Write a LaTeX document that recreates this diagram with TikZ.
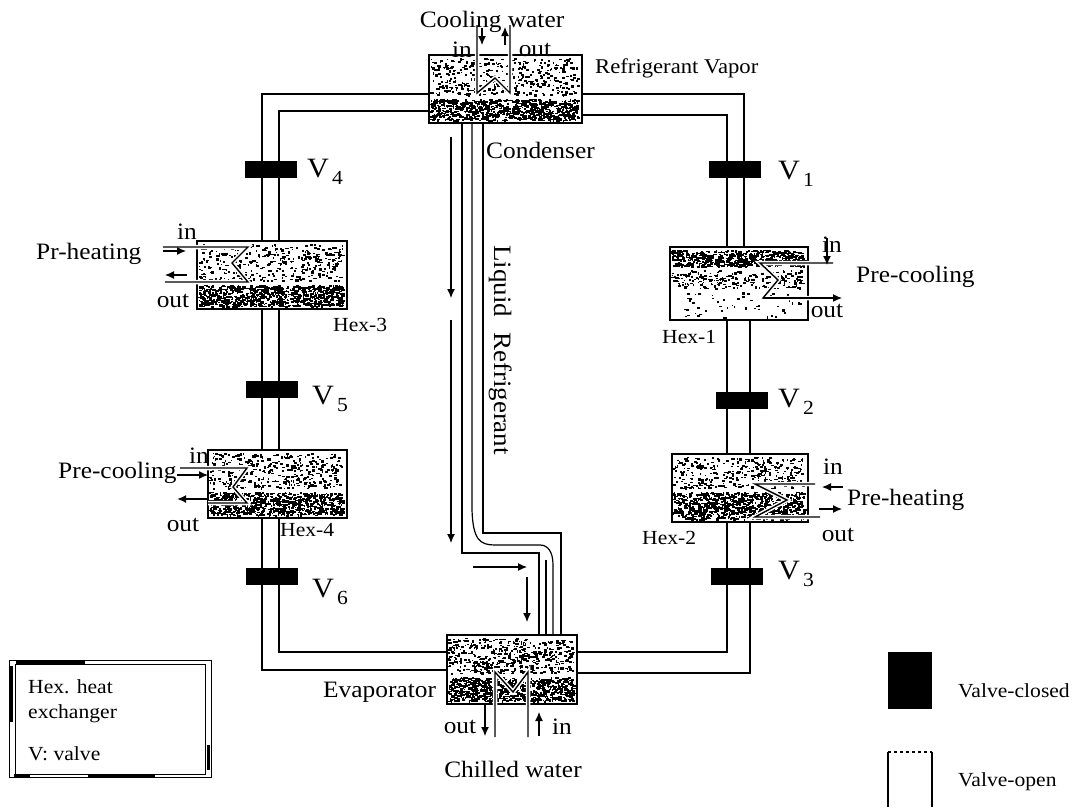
\documentclass[tikz,border=0pt]{standalone}
\usepackage{fontspec}
\setmainfont{Liberation Serif}[FakeStretch=1.08]
\usetikzlibrary{arrows.meta}
\newcommand{\speckle}[5]{
  \foreach \i in {1,...,#5}
    \fill ({#1+rnd*(#3-3.5)},{#2+2+rnd*(#4-4)}) rectangle ++({1+2.5*rnd},{1+1.5*rnd});
}
\newcommand{\vsub}[1]{V\kern3pt\raisebox{-7pt}{\fontsize{20}{22}\selectfont #1}}
\tikzset{
  pipe/.style={line width=1.2pt},
  coil/.style={line width=1.4pt, preaction={draw=white, line width=4.5pt}},
  flow/.style={line width=1.2pt, -{Latex[length=9pt,width=8pt]}},
  hexbox/.style={draw, fill=white, line width=1.5pt, inner sep=0pt, outer sep=0pt},
  valve/.style={fill=black, inner sep=0pt, outer sep=0pt, minimum width=52pt, minimum height=17pt},
  biglabel/.style={font=\fontsize{23.5}{25}\selectfont, inner sep=0pt},
  smalllabel/.style={font=\fontsize{20}{22}\selectfont, inner sep=0pt},
  vlabel/.style={font=\fontsize{28}{30}\selectfont, inner sep=0pt}
}
\begin{document}
\begin{tikzpicture}[x=1pt, y=-1pt]
  \pgfmathsetseed{4711}
  \useasboundingbox (0,0) rectangle (1085,807);

  \coordinate (topleftout) at (262,94);
  \coordinate (topleftin) at (279,111);
  \coordinate (botleftout) at (262,670);
  \coordinate (botleftin) at (279,652);
  \coordinate (toprightout) at (744,94);
  \coordinate (toprightin) at (727,115);
  \coordinate (botrightout) at (750,673);
  \coordinate (botrightin) at (727,652);

  \draw[pipe] (500,94) -- (topleftout) -- (botleftout) -- (500,670);
  \draw[pipe] (500,111) -- (topleftin) -- (botleftin) -- (500,652);
  \draw[pipe] (500,94) -- (toprightout) -- (744,283) -- (750,283) -- (botrightout) -- (500,673);
  \draw[pipe] (500,115) -- (toprightin) -- (botrightin) -- (500,652);

  \draw[pipe] (462,110) -- (462,553) -- (539,553) -- (539,650);
  \draw[pipe] (483,110) -- (483,533) -- (561,533) -- (561,650);
  \draw[pipe] (472,110) -- (472,510) .. controls (473,540) and (480,545) .. (495,545)
    -- (540,545) .. controls (548,545) and (553,552) .. (553,565) -- (553,643);
  \draw[pipe] (546,560) -- (546,643);

  \node[hexbox, minimum width=153pt, minimum height=68pt] (condenser) at (505.5,89) {};
  \speckle{430}{56}{151}{41}{380}
  \speckle{430}{97}{151}{25}{900}
  \node[hexbox, minimum width=150pt, minimum height=68pt] (hexthree) at (272,275) {};
  \speckle{198}{242}{148}{41}{360}
  \speckle{198}{283}{148}{25}{900}
  \node[hexbox, minimum width=139pt, minimum height=68pt] (hexfour) at (277.5,484) {};
  \speckle{209}{451}{137}{39}{380}
  \speckle{209}{490}{137}{27}{850}
  \node[hexbox, minimum width=138pt, minimum height=73pt] (hexone) at (739,283.5) {};
  \speckle{671}{248}{136}{20}{650}
  \speckle{671}{268}{136}{22}{240}
  \speckle{671}{290}{136}{29}{50}
  \node[hexbox, minimum width=136pt, minimum height=68pt] (hextwo) at (740,488) {};
  \speckle{673}{455}{134}{35}{340}
  \speckle{673}{490}{134}{31}{850}
  \node[hexbox, minimum width=130pt, minimum height=69pt] (evaporator) at (512,669.5) {};
  \speckle{448}{636}{128}{39}{500}
  \speckle{448}{675}{128}{28}{850}

  \node[valve] (vfour) at (271,169) {};
  \node[valve] (vone) at (735,169) {};
  \node[valve] (vfive) at (272,389.5) {};
  \node[valve] (vtwo) at (742,400.5) {};
  \node[valve] (vsix) at (272,576) {};
  \node[valve] (vthree) at (737,576) {};

  \draw[line width=2.2pt] (hexthree.south -| 262,0) -- (vfive.north -| 262,0);
  \draw[line width=2.2pt] (hextwo.south -| 727,0) -- (vthree.north -| 727,0);
  \draw[line width=2.2pt] (hextwo.south -| 750,0) -- (vthree.north -| 750,0);

  \draw[coil] (477,25) -- (477,93) -- (495,78) -- (510,93) -- (510,25);
  \draw[flow] (482,28) -- (482,45);
  \draw[flow] (505,45) -- (505,27);

  \draw[coil] (163,247) -- (248,247) -- (232,263) -- (248,282) -- (165,282);
  \draw[flow] (163,251) -- (186,251);
  \draw[flow] (187,275) -- (165,275);

  \draw[coil] (180,468) -- (247,468) -- (233,487) -- (247,503) -- (208,503);
  \draw[flow] (177,475) -- (208,475);
  \draw[flow, line width=1.8pt] (208,499) -- (177,499);

  \draw[coil] (833,263) -- (760,263) -- (778,280) -- (763,298) -- (810,298);
  \draw[flow] (827,238) -- (827,265);
  \draw[flow] (763,298) -- (842,298);

  \draw[coil] (815,484) -- (755,484) -- (787,500) -- (755,517) -- (820,517);
  \draw[flow] (843,487) -- (822,487);
  \draw[flow] (819,509) -- (842,509);

  \draw[coil] (495,737) -- (495,672) -- (513,692) -- (528,672) -- (528,737);
  \draw[flow] (485,705) -- (485,736);
  \draw[flow] (539,736) -- (539,712);

  \draw[flow] (451,137) -- (451,298);
  \draw[flow] (451,320) -- (451,543);
  \draw[flow] (473,567) -- (527,567);
  \draw[flow] (527,577) -- (527,622);

  \node[biglabel] (coolwater) at (492,22) {Cooling water};
  \node[biglabel] (coolin) at (462,50) {in};
  \node[biglabel] (coolout) at (535,50) {out};
  \node[smalllabel, right, font=\fontsize{21}{23}\selectfont] (vapor) at (595,68) {Refrigerant Vapor};
  \node[biglabel, right] (condlabel) at (486,150) {Condenser};
  \node[biglabel, rotate=-90, font=\fontsize{25}{27}\selectfont] (liquid) at (501,350) {Liquid\hspace{0.6em}Refrigerant};

  \node[biglabel, right] (prheat) at (36,254) {Pr-heating};
  \node[biglabel] (inthree) at (187,232) {in};
  \node[biglabel] (outthree) at (173,301) {out};
  \node[smalllabel, right] (labelthree) at (333,325) {Hex-3};

  \node[biglabel, right] (precoolfour) at (58,473) {Pre-cooling};
  \node[biglabel] (infour) at (199,456) {in};
  \node[biglabel] (outfour) at (183,525) {out};
  \node[smalllabel, right] (labelfour) at (280,530) {Hex-4};

  \node[biglabel, right] (precoolone) at (856,277) {Pre-cooling};
  \node[biglabel] (inone) at (832,245) {in};
  \node[biglabel] (outone) at (827,311) {out};
  \node[smalllabel, right] (labelone) at (662,337) {Hex-1};

  \node[biglabel, right] (preheattwo) at (847,500) {Pre-heating};
  \node[biglabel] (intwo) at (833,467) {in};
  \node[biglabel] (outtwo) at (838,535) {out};
  \node[smalllabel, right] (labeltwo) at (642,538) {Hex-2};

  \node[biglabel, right] (evaplabel) at (323,692) {Evaporator};
  \node[biglabel] (outevap) at (460,727) {out};
  \node[biglabel] (inevap) at (562,727) {in};
  \node[biglabel] (chilled) at (513,769) {Chilled water};

  \node[vlabel, right] (vfourlabel) at (307,172) {\vsub{4}};
  \node[vlabel, right] (vonelabel) at (778,174) {\vsub{1}};
  \node[vlabel, right] (vfivelabel) at (312,399) {\vsub{5}};
  \node[vlabel, right] (vtwolabel) at (778,402) {\vsub{2}};
  \node[vlabel, right] (vsixlabel) at (312,592) {\vsub{6}};
  \node[vlabel, right] (vthreelabel) at (778,574) {\vsub{3}};

  \draw[line width=1pt] (9,660) rectangle (211,777);
  \node[draw, line width=1pt, minimum width=190pt, minimum height=110pt, inner sep=0pt] (legend) at (110,719) {};
  \draw[line width=3pt] (11.5,666) -- (11.5,722);
  \draw[line width=3pt] (16,662) -- (85,662);
  \draw[line width=3pt] (208,745) -- (208,770);
  \draw[line width=2.5pt] (14,775.5) -- (30,775.5) (88,775.5) -- (155,775.5);
  \node[smalllabel, right] (hexkey) at (28,687) {Hex. heat};
  \node[smalllabel, right] (exchkey) at (28,714) {exchanger};
  \node[smalllabel, right] (vkey) at (28,754) {V: valve};

  \node[fill=black, inner sep=0pt, minimum width=44pt, minimum height=57pt] (closedkey) at (910,680.5) {};
  \node[smalllabel, right] (closedlabel) at (958,691) {Valve-closed};
  \coordinate (opentl) at (888,752);
  \coordinate (opentr) at (932,752);
  \draw[line width=1.2pt] (opentl) -- (888,807);
  \draw[line width=1.2pt] (opentr) -- (932,807);
  \draw[line width=1.2pt, dashed] (opentl) -- (opentr);
  \node[smalllabel, right] (openlabel) at (958,782) {Valve-open};
\end{tikzpicture}
\end{document}
